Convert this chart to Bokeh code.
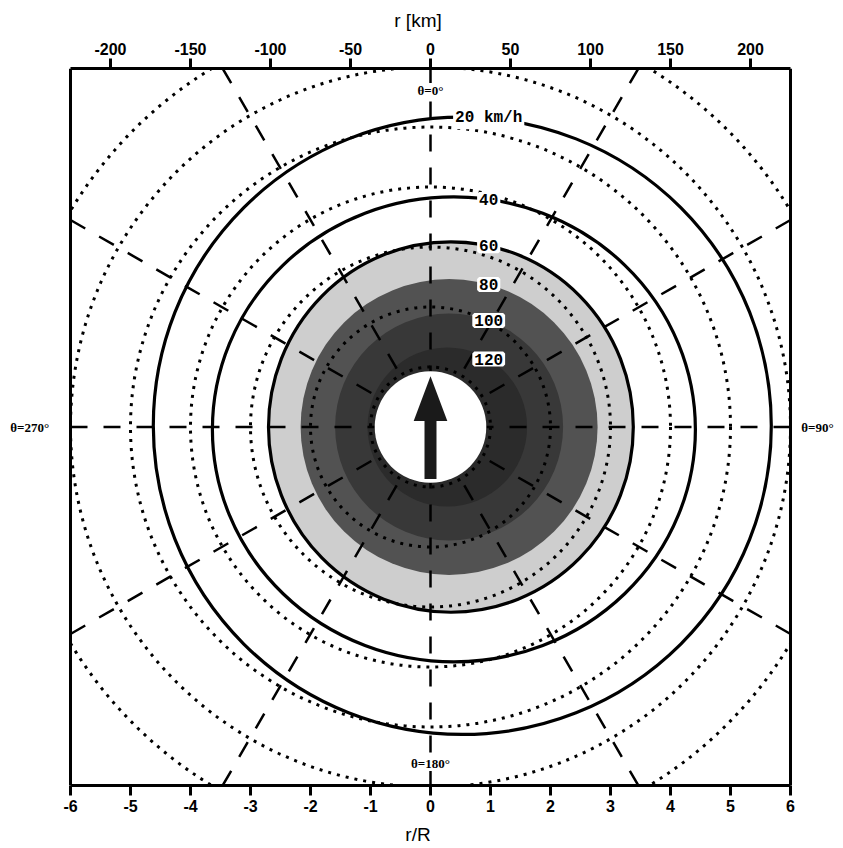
import numpy as np
from bokeh.plotting import figure
from bokeh.models import (Range1d, LinearAxis, FixedTicker, ColumnDataSource, LabelSet, Label,
                          CustomJSTickFormatter)
from bokeh.embed import file_html
from bokeh.resources import INLINE
from bokeh.core.properties import value

# ---------------- data ----------------
rR_ticks = [-6, -5, -4, -3, -2, -1, 0, 1, 2, 3, 4, 5, 6]
km_ticks = [-200, -150, -100, -50, 0, 50, 100, 150, 200]
R_km = 37.5                        # radius of maximum wind, km (6 R = 225 km)
box_lim = 6                        # plotted domain: -6 .. 6 r/R
sym_radii = [1, 2, 3, 4, 5, 6, 7]  # dotted circles, r/R
radial_angles = [0, 30, 60, 90, 120, 150, 180, 210, 240, 270, 300, 330]  # deg, clockwise from north

levels = [20, 40, 60, 80, 100, 120]          # wind speed km/h
level_labels = ["20 km/h", "40", "60", "80", "100", "120"]
contour_cx = [0.53, 0.39, 0.34, 0.31, 0.31, 0.28]   # centre of each isotach, r/R
contour_cy = [0.02, -0.04, 0.0, 0.0, 0.0, 0.0]
contour_w = [10.30, 8.05, 6.08, 4.95, 3.80, 2.66]   # full width, r/R
contour_h = [10.33, 7.78, 6.20, 4.95, 3.80, 2.66]   # full height, r/R

eye_radius = 0.93
arrow_tail = -0.87
arrow_head_base = 0.10
arrow_tip = 0.85

theta_labels = ["θ=0°", "θ=90°", "θ=180°", "θ=270°"]

# ---------------- layout / styles ----------------
PX = 60.0               # pixels per r/R unit
CANVAS_W = 835
CENTER_PX = 430
x_lo = -CENTER_PX / PX
x_hi = (CANVAS_W - CENTER_PX) / PX

band_fill = {60: "#cecece", 80: "#525252", 100: "#383838", 120: "#2b2b2b"}
solid_levels = [20, 40, 60]

p = figure(frame_width=CANVAS_W, frame_height=717,
           min_border_left=0, min_border_right=0, min_border_top=68, min_border_bottom=60,
           x_range=Range1d(x_lo, x_hi), y_range=Range1d(-box_lim, box_lim),
           x_axis_location="below", y_axis_location=None,
           toolbar_location=None, output_backend="svg",
           background_fill_color="white", border_fill_color="white")
p.xgrid.visible = False
p.ygrid.visible = False
p.outline_line_color = None

# top km axis
p.extra_x_ranges = {"km": Range1d(x_lo * R_km, x_hi * R_km)}
top = LinearAxis(x_range_name="km", ticker=FixedTicker(ticks=km_ticks), axis_label="r [km]",
                 bounds=(-box_lim * R_km, box_lim * R_km))
p.add_layout(top, "above")
bottom = p.below[0]
bottom.ticker = FixedTicker(ticks=rR_ticks)
bottom.axis_label = "r/R"
bottom.bounds = (-box_lim, box_lim)
for ax in (top, bottom):
    ax.formatter = CustomJSTickFormatter(code="return tick.toString();")
    ax.axis_line_width = 3
    ax.major_tick_line_width = 3
    ax.major_tick_out = 10
    ax.major_tick_in = 0
    ax.minor_tick_line_color = None
    ax.major_label_text_font = "Liberation Sans"
    ax.major_label_text_font_style = "bold"
    ax.major_label_text_font_size = "16px"
    ax.major_label_text_color = "black"
    ax.major_label_standoff = 4
    ax.axis_label_text_font = "Liberation Sans"
    ax.axis_label_text_font_style = "normal"
    ax.axis_label_text_font_size = "19px"
    ax.axis_label_text_color = "black"
    ax.axis_label_standoff = 9

# shaded bands (filled isotachs, outer first)
for lv, cx, cy, w, h in zip(levels, contour_cx, contour_cy, contour_w, contour_h):
    if lv in band_fill:
        p.ellipse(x=cx, y=cy, width=w, height=h, fill_color=band_fill[lv], line_color=None)

# dotted symmetric circles
p.circle(x=[0] * len(sym_radii), y=[0] * len(sym_radii), radius=sym_radii,
         fill_color=None, line_color="black", line_width=3, line_dash="3 6")

# dashed radial lines
xs, ys = [], []
for a in radial_angles:
    t = np.deg2rad(a)
    s, c = np.sin(t), np.cos(t)
    r_end = box_lim / max(abs(s), abs(c))
    xs.append([r_end * s, 0.0])
    ys.append([r_end * c, 0.0])
p.multi_line(xs=xs, ys=ys, line_color="black", line_width=2.5, line_dash="17 16")

# solid isotachs
for lv, cx, cy, w, h in zip(levels, contour_cx, contour_cy, contour_w, contour_h):
    if lv in solid_levels:
        p.ellipse(x=cx, y=cy, width=w, height=h, fill_color=None, line_color="black", line_width=3.2)

# mask everything outside the square domain, then draw its side edges
p.quad(left=[x_lo, box_lim], right=[-box_lim, x_hi], bottom=[-box_lim - 1] * 2, top=[box_lim + 1] * 2,
       fill_color="white", line_color=None)
p.segment(x0=[-box_lim, box_lim], y0=[-box_lim, -box_lim], x1=[-box_lim, box_lim], y1=[box_lim, box_lim],
          line_color="black", line_width=3)

# eye and motion arrow
p.circle(x=[0], y=[0], radius=eye_radius, fill_color="white", line_color=None)
p.quad(left=[-0.1], right=[0.1], bottom=[arrow_tail], top=[arrow_head_base + 0.02],
       fill_color="#1a1a1a", line_color=None)
p.patch(x=[-0.28, 0.28, 0.0], y=[arrow_head_base, arrow_head_base, arrow_tip],
        fill_color="#1a1a1a", line_color=None)

# isotach labels placed on each contour
lab_x = 0.97
lx, ly = [], []
for cx, cy, w, h in zip(contour_cx, contour_cy, contour_w, contour_h):
    a, b = w / 2, h / 2
    lx.append(lab_x)
    ly.append(cy + b * np.sqrt(max(0.0, 1 - ((lab_x - cx) / a) ** 2)))
src = ColumnDataSource(dict(x=lx, y=ly, text=level_labels))
p.add_layout(LabelSet(x="x", y="y", text="text", source=src,
                      text_align="center", text_baseline="middle",
                      text_font=value("Liberation Mono"), text_font_style="bold",
                      text_font_size="16px", text_color="black",
                      background_fill_color="white", background_fill_alpha=1.0,
                      border_line_color="white", border_line_width=4))

# theta labels
theta_pos = [(0.0, 5.63), (6.45, 0.0), (0.0, -5.63), (-6.68, 0.0)]
for txt, (tx, ty) in zip(theta_labels, theta_pos):
    p.add_layout(Label(x=tx, y=ty, text=txt, text_align="center", text_baseline="middle",
                       text_font="Liberation Serif", text_font_style="bold",
                       text_font_size="13px", text_color="black",
                       background_fill_color="white", background_fill_alpha=1.0))

open("out.html", "w").write(file_html(p, INLINE))
